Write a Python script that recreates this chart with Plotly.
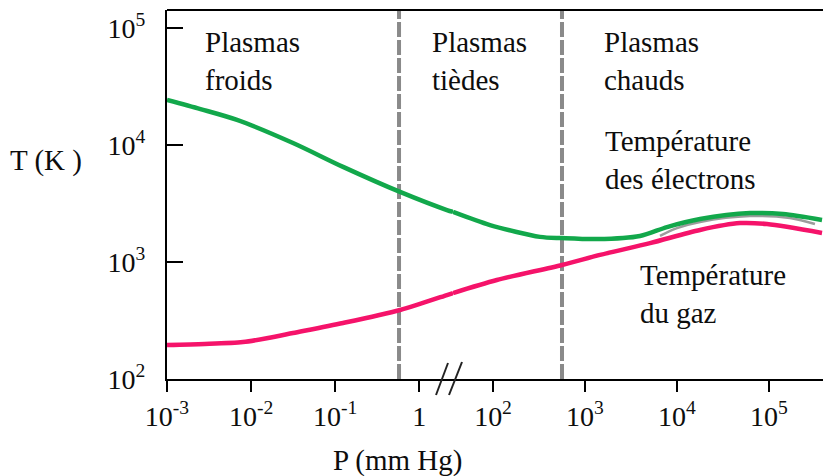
import plotly.graph_objects as go

# ---- data ----
# left part of the broken pressure axis (mm Hg)
p_elec_left = [0.001, 0.0025, 0.0068, 0.0315, 0.124, 0.59, 2.13, 2.52]
t_elec_left = [24300, 20300, 16400, 10400, 6500, 3970, 2780, 2680]
p_gas_left = [0.001, 0.0028, 0.008, 0.0159, 0.0315, 0.124, 0.59, 2.13, 2.52]
t_gas_left = [195, 199, 207, 224, 247, 301, 389, 522, 543]

# right part of the broken pressure axis (mm Hg)
p_elec_right = [36.7, 92.7, 324, 562, 1350, 3960, 7790, 17800, 62100, 142000, 377000]
t_elec_right = [2680, 2070, 1640, 1600, 1570, 1670, 1990, 2330, 2620, 2570, 2290]
p_gas_right = [36.7, 110, 562, 1455, 5090, 17800, 48400, 95100, 377000]
t_gas_right = [543, 702, 943, 1150, 1450, 1880, 2150, 2110, 1770]
p_shadow = [6530, 10000, 17800, 62100, 169000, 316000]
t_shadow = [1670, 1950, 2200, 2470, 2380, 2110]

# region boundaries (mm Hg)
boundary_left = 0.574
boundary_right = 562

x_ticks_left = [0.001, 0.01, 0.1, 1]
x_labels_left = ["10<sup>-3</sup>", "10<sup>-2</sup>", "10<sup>-1</sup>", "1"]
x_ticks_right = [100, 1000, 10000, 100000]
x_labels_right = ["10<sup>2</sup>", "10<sup>3</sup>", "10<sup>4</sup>", "10<sup>5</sup>"]
y_ticks = [100, 1000, 10000, 100000]
y_labels = ["10<sup>2</sup>", "10<sup>3</sup>", "10<sup>4</sup>", "10<sup>5</sup>"]

regions = ["Plasmas<br>froids", "Plasmas<br>tièdes", "Plasmas<br>chauds"]

# ---- layout geometry (page body has an 8px margin) ----
OFF = 8
W, H = 831 - OFF, 476 - OFF
L, R, T = 167 - OFF, 0, 10 - OFF
B = H - (379 - OFF)
PW, PH = W - L - R, H - T - B
split_px = 453
dom = (split_px - 167) / PW

def px(x):
    return (x - 167) / PW

def py(y):
    return (379 - y) / PH

GREEN = "#12A84B"
PINK = "#F5136A"
GRAY = "#8a8a8a"
FONT = "Liberation Serif"
TXT = "#0d0d0d"

y_top = 10 ** 5.154
fig = go.Figure()

# boundaries
fig.add_trace(go.Scatter(x=[boundary_left, boundary_left], y=[100, y_top], xaxis="x", yaxis="y",
                         mode="lines", line=dict(color=GRAY, width=4, dash="15px,3px"), hoverinfo="skip"))
fig.add_trace(go.Scatter(x=[boundary_right, boundary_right], y=[100, y_top], xaxis="x2", yaxis="y",
                         mode="lines", line=dict(color=GRAY, width=4, dash="15px,3px"), hoverinfo="skip"))

fig.add_trace(go.Scatter(x=p_shadow, y=t_shadow, xaxis="x2", yaxis="y", mode="lines",
                         line=dict(color="#9c9c9c", width=2.5, shape="spline"), hoverinfo="skip"))

for xs, ys, ax, col in [
    (p_elec_left, t_elec_left, "x", GREEN),
    (p_elec_right, t_elec_right, "x2", GREEN),
    (p_gas_left, t_gas_left, "x", PINK),
    (p_gas_right, t_gas_right, "x2", PINK),
]:
    fig.add_trace(go.Scatter(x=xs, y=ys, xaxis=ax, yaxis="y", mode="lines",
                             line=dict(color=col, width=4.5, shape="spline", smoothing=0.8)))

axis_common = dict(type="log", showgrid=False, zeroline=False, showline=True, linecolor="black",
                   linewidth=2, ticks="outside", ticklen=11, tickwidth=2, tickcolor="black",
                   tickfont=dict(family=FONT, size=28, color=TXT))

fig.update_layout(
    width=W, height=H, margin=dict(l=L, r=R, t=T, b=B),
    paper_bgcolor="white", plot_bgcolor="white", showlegend=False,
    xaxis=dict(**axis_common, domain=[0, dom], range=[-3, 0.4007], anchor="y",
               tickvals=x_ticks_left, ticktext=x_labels_left),
    xaxis2=dict(**axis_common, domain=[dom, 1], range=[1.565, 5.674], anchor="y",
                tickvals=x_ticks_right, ticktext=x_labels_right),
    yaxis=dict(type="log", range=[2, 5.154], anchor="x", showgrid=False, zeroline=False,
               showline=True, linecolor="black", linewidth=2, ticks="inside", ticklen=16,
               tickwidth=2, tickcolor="black", tickvals=y_ticks, ticktext=y_labels,
               ticklabelstandoff=14, tickfont=dict(family=FONT, size=28, color=TXT)),
)

shapes = [
    dict(type="line", xref="paper", yref="paper", x0=0, x1=1, y0=1, y1=1, line=dict(color="black", width=2)),
    dict(type="line", xref="paper", yref="paper", x0=0, x1=0, y0=0, y1=py(390), line=dict(color="black", width=2)),
    dict(type="line", xref="paper", yref="paper", x0=px(436), x1=px(448), y0=py(395), y1=py(363), line=dict(color="#222", width=2)),
    dict(type="line", xref="paper", yref="paper", x0=px(449), x1=px(462), y0=py(395), y1=py(362), line=dict(color="#222", width=2)),
]
fig.update_layout(shapes=shapes)

ann_font = dict(family=FONT, size=29, color=TXT)
anns = [
    dict(text=regions[0], x=px(203), y=py(61)),
    dict(text=regions[1], x=px(430), y=py(61)),
    dict(text=regions[2], x=px(602), y=py(61)),
    dict(text="Température<br>des électrons", x=px(603), y=py(160)),
    dict(text="Température<br>du gaz", x=px(638), y=py(294)),
]
for a in anns:
    fig.add_annotation(xref="paper", yref="paper", xanchor="left", yanchor="middle", align="left",
                       showarrow=False, font=ann_font, **a)
fig.add_annotation(text="T (K )", xref="paper", yref="paper", x=px(8), y=py(160), xanchor="left",
                   yanchor="middle", showarrow=False, font=ann_font)
fig.add_annotation(text="P (mm Hg)", xref="paper", yref="paper", x=px(397), y=py(460), xanchor="center",
                   yanchor="middle", showarrow=False, font=ann_font)

fig.write_html("out.html")
